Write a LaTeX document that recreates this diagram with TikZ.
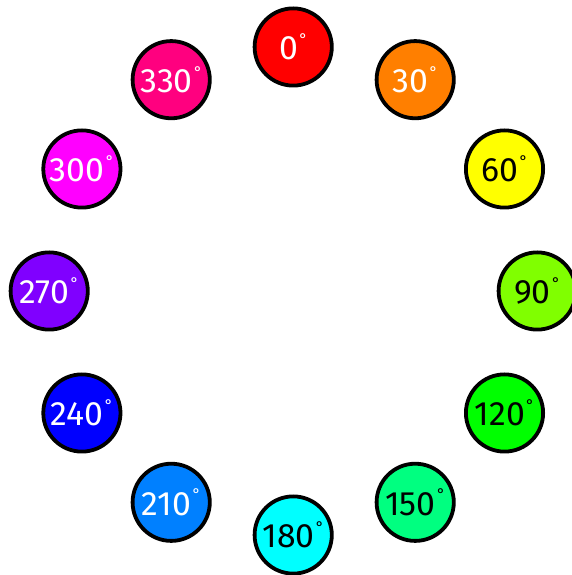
\documentclass[tikz,border=0pt]{standalone}
\usepackage{xcolor}
\usepackage{fontspec}
\setmainfont{Fira Sans}
\usepackage{tikz}
\usetikzlibrary{calc}

\newcommand{\hdeg}{\kern1pt\raisebox{0.45em}{\fontsize{11}{11}\selectfont°}}

\begin{document}
\begin{tikzpicture}[
  huedot/.style={
    circle, draw=black, line width=2.7pt,
    minimum size=1.93cm, inner sep=0pt,
    font=\fontsize{24}{24}\selectfont,
  },
]

% ── canvas (572 x 575 px at 0.025cm per px)
\useasboundingbox (0,0) rectangle (14.3,14.375);
\coordinate (wheel) at (7.33,7.1);

% ── hue ring, 0 at the top, clockwise
\foreach \hue in {0,30,...,330}{
  \convertcolorspec{Hsb}{\hue,1,1}{rgb}\huergb
  \definecolor{huefill}{rgb}{\huergb}
  \ifnum\hue<50 \def\huetext{white}\else
    \ifnum\hue<200 \def\huetext{black}\else \def\huetext{white}\fi\fi
  \node[huedot, fill=huefill, text=\huetext] (hue\hue)
    at ($(wheel)+(90-\hue:6.1)$) {\hue\hdeg};
}

\end{tikzpicture}
\end{document}
